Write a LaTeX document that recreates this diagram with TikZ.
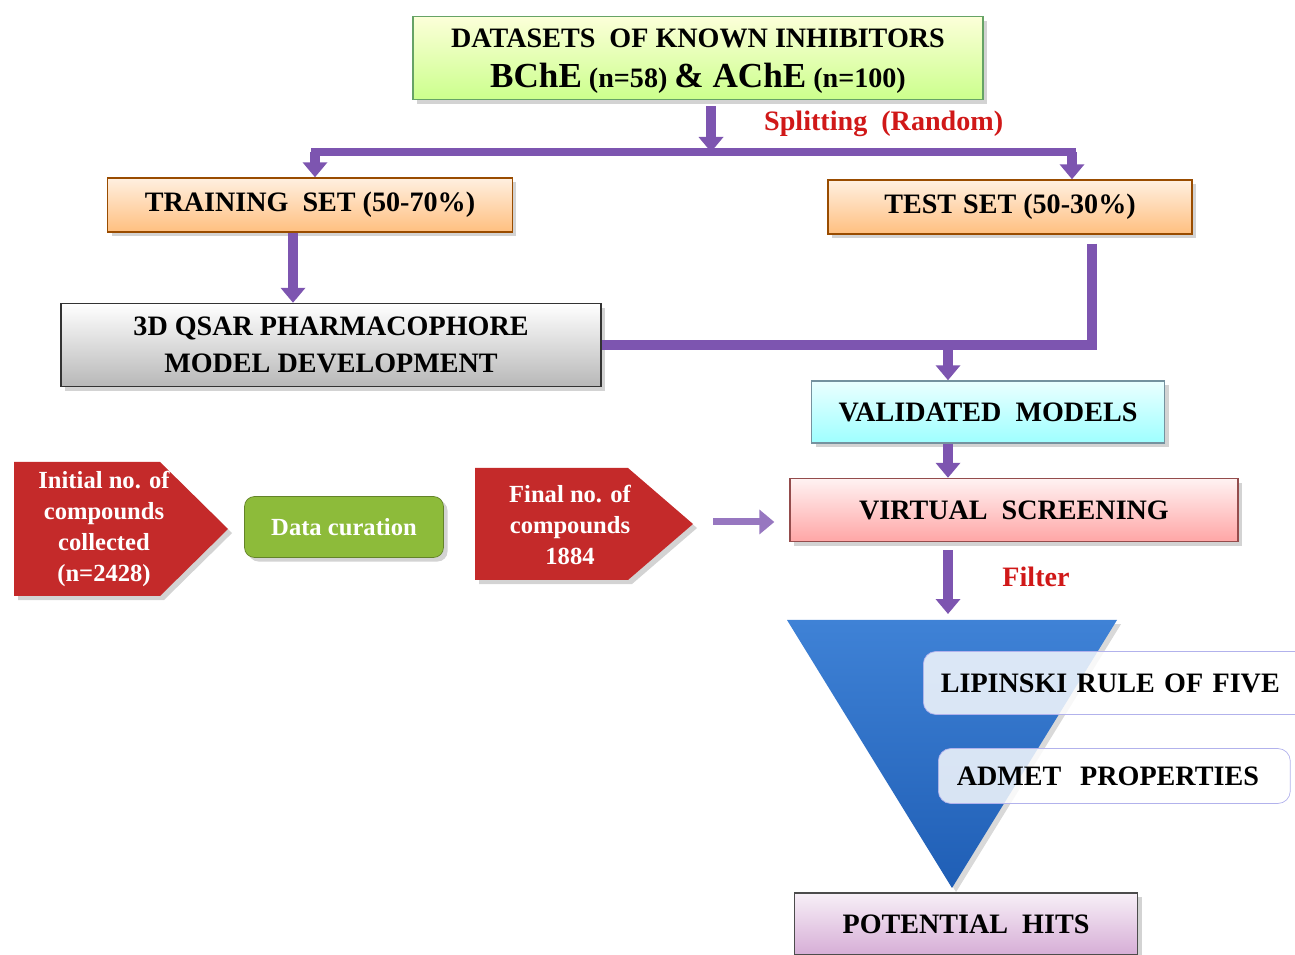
\documentclass[tikz,border=0pt]{standalone}
\usepackage{fontspec}
\setmainfont{Liberation Serif}
\usetikzlibrary{positioning,shadows,arrows.meta}
\definecolor{arrowpurple}{HTML}{7D55B0}
\definecolor{labelred}{HTML}{D01818}
\definecolor{boxred}{HTML}{C42A2A}
\definecolor{curgreen}{HTML}{8DBB3A}
\definecolor{funneltop}{HTML}{3F82D6}
\definecolor{funnelbottom}{HTML}{1F5EB5}
\tikzset{
	box/.style = {draw, line width=0.8pt, font=\fontsize{16}{19}\selectfont\bfseries, align=center, drop shadow={opacity=0.35}},
	tag/.style = {text=white, font=\fontsize{14}{17.6}\selectfont\bfseries, align=center},
	panel/.style = {draw=black!25!blue!30, rounded corners=0.25cm, fill=white, fill opacity=0.82, text opacity=1, font=\fontsize{16}{19}\selectfont\bfseries, align=left},
	flow/.style = {draw=arrowpurple, line width=0.2cm, -{Triangle[width=0.48cm,length=0.3cm]}},
	bar/.style = {draw=arrowpurple, line width=0.17cm}
}
\begin{document}
\begin{tikzpicture}[x=0.02cm, y=-0.02cm]
	\useasboundingbox (0, 0) rectangle (1295, 955);
	\node[box, draw=green!40!black!60, top color=green!8!yellow!15, bottom color=green!45!yellow!45, minimum width=11.4cm, minimum height=1.66cm, inner ysep=0.1cm] (data) at (698, 58) {\rule{0pt}{0.5cm}DATASETS\ \ OF KNOWN INHIBITORS \\[0.12cm] {\fontsize{20}{22}\selectfont BChE} (n=58) {\fontsize{20}{22}\selectfont \& AChE} (n=100)};
	\coordinate (split) at (711, 152);
	\coordinate (splitL) at (315, 152);
	\coordinate (splitR) at (1072, 152);
	\node[anchor = west, text=labelred, font=\fontsize{16}{19}\selectfont\bfseries] (splitlabel) at (758, 124) {Splitting\ \ (Random)};
	\node[box, draw=orange!60!black, top color=orange!12, bottom color=orange!50, minimum width=8.1cm, minimum height=1.08cm] (train) at (310, 205) {TRAINING\ \ SET (50-70\%)};
	\node[box, draw=orange!60!black, top color=orange!12, bottom color=orange!50, minimum width=7.28cm, minimum height=1.08cm] (test) at (1010, 207) {TEST SET (50-30\%)};
	\node[box, draw=black!80, top color=white, bottom color=black!28, minimum width=10.8cm, minimum height=1.66cm] (qsar) at (331, 345) {3D QSAR PHARMACOPHORE \\[0.06cm] MODEL DEVELOPMENT};
	\node[box, draw=cyan!40!black!70, top color=cyan!8, bottom color=cyan!38, minimum width=7.06cm, minimum height=1.24cm] (valid) at (988, 412) {VALIDATED\ \ MODELS};
	\node[box, draw=red!40!black!70, top color=red!5, bottom color=red!35, minimum width=8.96cm, minimum height=1.26cm] (screen) at (1014, 510) {VIRTUAL\ \ SCREENING};
	\coordinate (join) at (948, 343);
	\fill[boxred, drop shadow={opacity=0.35}] (14, 462) -- (160, 462) -- (228, 529) -- (160, 596) -- (14, 596) -- cycle;
	\node[tag] (init) at (104, 529) {Initial no. of \\ compounds \\ collected \\ (n=2428)};
	\node[draw=curgreen!70!black, fill=curgreen, rounded corners=0.2cm, text=white, font=\fontsize{14}{17}\selectfont\bfseries, minimum width=3.98cm, minimum height=1.22cm, drop shadow={opacity=0.35}] (cur) at (344, 527) {Data curation};
	\fill[boxred, drop shadow={opacity=0.35}] (475, 468) -- (628, 468) -- (693, 524) -- (628, 580) -- (475, 580) -- cycle;
	\coordinate (finaltip) at (693, 522);
	\node[tag] (final) at (570, 525) {Final no. of \\ compounds \\ 1884};
	\node[text=labelred, font=\fontsize{16}{19}\selectfont\bfseries] (filter) at (1036, 577) {Filter};
	\coordinate (funL) at (787, 620);
	\coordinate (funR) at (1117, 620);
	\coordinate (funtop) at (948, 614);
	\coordinate (apex) at (952, 888);
	\shade[top color=funneltop, bottom color=funnelbottom, drop shadow={opacity=0.3}] (funL) -- (funR) -- (apex) -- cycle;
	\node[panel, anchor=west, minimum width=7.8cm, minimum height=1.26cm, inner xsep=0.32cm, text width=7.1cm] (lip) at (923, 683) {LIPINSKI RULE OF FIVE};
	\node[panel, anchor=west, minimum width=7.04cm, minimum height=1.1cm, inner xsep=0.34cm, text width=6.3cm] (admet) at (938, 776) {ADMET\ \ PROPERTIES};
	\node[box, draw=black!70, top color=violet!6, bottom color=violet!32, minimum width=6.86cm, minimum height=1.24cm] (hits) at (966, 924) {POTENTIAL\ \ HITS};
	\draw[flow] ([yshift=-0.12cm]data.south -| split) -- (split);
	\draw[bar] ([xshift=-0.08cm]splitL) -- ([xshift=0.08cm]splitR);
	\draw[flow] (splitL) -- (splitL |- train.north);
	\draw[flow] (splitR) -- (splitR |- test.north);
	\draw[flow] ([xshift=-0.34cm]train.south) -- ([xshift=-0.34cm]train.south |- qsar.north);
	\draw[bar, line width=0.2cm] ([xshift=1.64cm, yshift=-0.18cm]test.south) |- (qsar.east);
	\draw[flow] (join) -- (join |- valid.north);
	\draw[flow] (join |- valid.south) -- (join |- screen.north);
	\draw[flow] ([yshift=-0.16cm]join |- screen.south) -- (funtop);
	\draw[flow, draw=arrowpurple!80, line width=0.14cm] ([xshift=0.4cm]finaltip) -- ([xshift=-0.3cm]screen.west |- finaltip);
\end{tikzpicture}
\end{document}
